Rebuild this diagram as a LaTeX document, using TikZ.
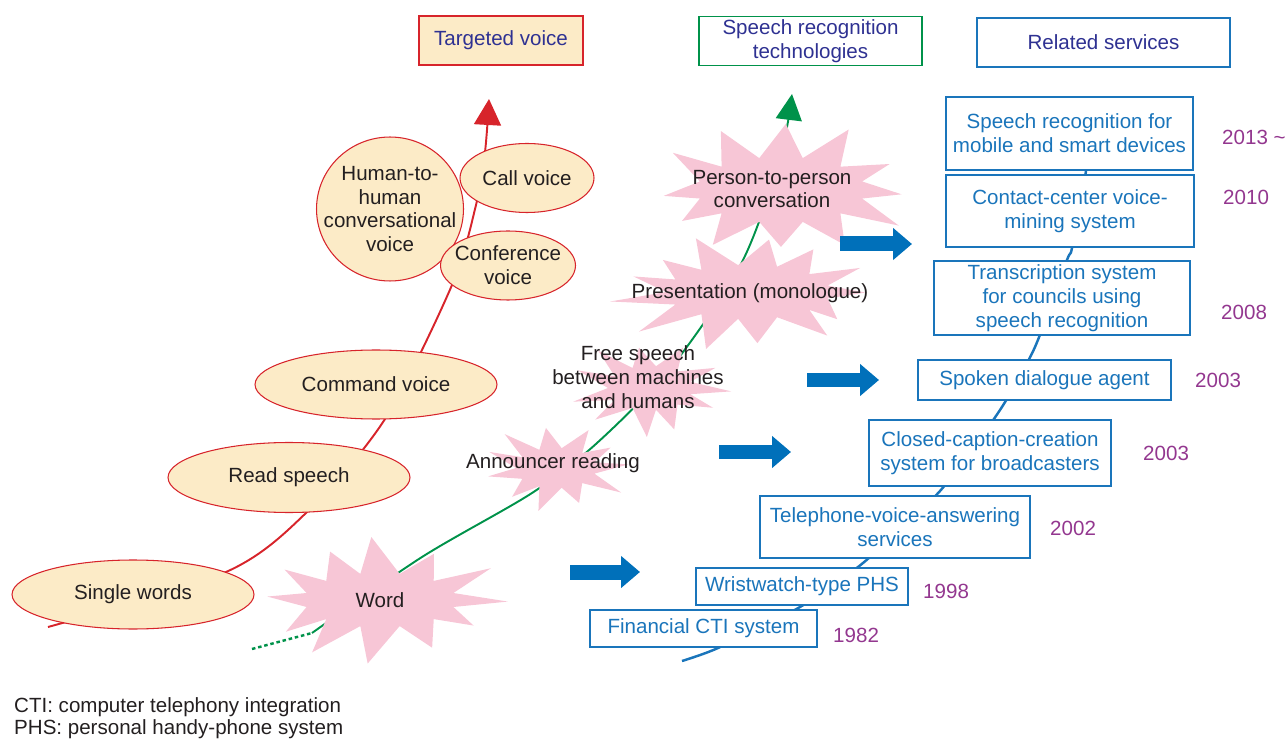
\documentclass[tikz,border=0pt]{standalone}
\usepackage{fontspec}
\setmainfont{Liberation Sans}
\usetikzlibrary{arrows.meta}
\usetikzlibrary{shapes.geometric}

\definecolor{voicered}{HTML}{D7242B}
\definecolor{voicefill}{HTML}{FCEBC7}
\definecolor{burstpink}{HTML}{F7C6D6}
\definecolor{techgreen}{HTML}{00924A}
\definecolor{servblue}{HTML}{1A75BB}
\definecolor{arrowblue}{HTML}{0070BA}
\definecolor{yearpurple}{HTML}{93378F}
\definecolor{headblue}{HTML}{2E3192}
\definecolor{inktext}{HTML}{231F20}

\tikzset{
  txt/.style={font=\fontsize{11.7}{13.6}\selectfont, align=center, text=inktext},
  voice/.style={ellipse, draw=voicered, fill=voicefill, line width=0.6pt, inner sep=-10pt, txt},
  service/.style={rectangle, draw=servblue, fill=white, line width=0.75pt, inner sep=0pt, txt, text=servblue},
  header/.style={rectangle, line width=0.75pt, inner sep=0pt, minimum height=0.98cm, txt, text=headblue},
  year/.style={txt, text=yearpurple, anchor=west},
  bigarrow/.style={arrowblue, line width=0.3cm, -{Triangle[length=0.38cm, width=0.62cm]}},
}

% pink star: centre x, centre y, outer rx, outer ry, inner rx, inner ry, points, seed
\newcommand{\spikes}[8]{%
  \pgfmathsetseed{#8}%
  \pgfmathsetmacro\halfstep{180/#7}%
  \pgfmathtruncatemacro\lastpt{#7-1}%
  \fill[burstpink] ({#1+#5*cos(\halfstep)}, {#2-#6*sin(\halfstep)})
    \foreach \k [evaluate=\k as \f using 0.76+0.24*rnd, evaluate=\k as \a using 2*\k*\halfstep+6*rand] in {0,...,\lastpt} {
      -- ({#1+\f*#3*cos(\a)}, {#2+\f*#4*sin(\a)})
      -- ({#1+#5*cos((2*\k+1)*\halfstep)}, {#2+#6*sin((2*\k+1)*\halfstep)})
    } -- cycle;
}

\begin{document}
\begin{tikzpicture}[x=0.02cm, y=-0.02cm]
  \useasboundingbox (0,0) rectangle (1287,739);

  % headers
  \node[header, draw=voicered, fill=voicefill, minimum width=3.28cm] (targeted) at (501,40.5) {Targeted voice};
  \node[header, draw=techgreen, fill=white, minimum width=4.46cm] (techs) at (810.5,41.3) {Speech recognition\\technologies};
  \node[header, draw=servblue, fill=white, minimum width=5.06cm] (related) at (1103.5,42.5) {Related services};

  % the three time lines
  \draw[voicered, line width=1.1pt, -{Triangle[length=0.52cm, width=0.54cm]}]
    plot[smooth, tension=0.5] coordinates {(48,627) (226,572) (307,512) (385,419) (452,285) (476,205) (485,152) (489,99)};
  \draw[techgreen, line width=1.4pt, dash pattern=on 2pt off 1.6pt] (252,649) -- (312,633);
  \draw[techgreen, line width=1.1pt, -{Triangle[length=0.52cm, width=0.52cm]}]
    plot[smooth, tension=0.5] coordinates {(312,633) (422,557) (532,493) (597,443) (673,365) (742,262) (780,158) (792,94)};
  \draw[servblue, line width=1.4pt]
    plot[smooth, tension=0.4] coordinates {(682,661) (718,648) (800,607) (863,563) (940,491) (1000,410) (1035,347) (1067,260) (1072,248) (1086,171)};

  % technologies
  \spikes{380}{600}{132}{70}{76}{27}{12}{7}
  \spikes{556}{468}{80}{48}{40}{20}{11}{21}
  \spikes{650}{388}{82}{50}{42}{22}{11}{33}
  \spikes{748}{292}{140}{64}{82}{27}{13}{45}
  \spikes{781}{190}{142}{72}{84}{33}{12}{58}

  \node[txt] (word) at (380,600) {Word};
  \node[txt] (announce) at (553,463) {Announcer reading};
  \node[txt] (free) at (638,377) {Free speech\\between machines\\and humans};
  \node[txt] (present) at (750,293) {Presentation (monologue)};
  \node[txt] (person) at (772,189) {Person-to-person\\conversation};

  % targeted voice
  \node[voice, minimum width=2.94cm, minimum height=2.88cm] (human) at (390,209) {Human-to-\\human\\conversational\\voice};
  \node[voice, minimum width=2.7cm, minimum height=1.38cm] (conference) at (508,265.5) {Conference\\voice};
  \node[voice, minimum width=2.68cm, minimum height=1.38cm] (call) at (527,178) {Call voice};
  \node[voice, minimum width=4.84cm, minimum height=1.38cm] (command) at (376,384.5) {Command voice};
  \node[voice, minimum width=4.84cm, minimum height=1.4cm] (read) at (289,477.5) {Read speech};
  \node[voice, minimum width=4.84cm, minimum height=1.38cm] (single) at (133,594.5) {Single words};

  % arrows to services
  \draw[bigarrow] (570,572) -- (640,572);
  \draw[bigarrow] (719,452) -- (791,452);
  \draw[bigarrow] (807,380) -- (879,380);
  \draw[bigarrow] (840,244) -- (912,244);

  % related services
  \node[service, minimum width=4.94cm, minimum height=1.46cm] (mobile) at (1069.5,133.5) {Speech recognition for\\mobile and smart devices};
  \node[service, minimum width=4.96cm, minimum height=1.44cm] (contact) at (1070,211) {Contact-center voice-\\mining system};
  \node[service, minimum width=5.12cm, minimum height=1.48cm] (council) at (1062,298) {Transcription system\\for councils using\\speech recognition};
  \node[service, minimum width=5.06cm, minimum height=0.8cm] (agent) at (1044.5,380) {Spoken dialogue agent};
  \node[service, minimum width=4.84cm, minimum height=1.32cm] (caption) at (990,453) {Closed-caption-creation\\system for broadcasters};
  \node[service, minimum width=5.4cm, minimum height=1.24cm] (phone) at (895,527) {Telephone-voice-answering\\services};
  \node[service, minimum width=4.24cm, minimum height=0.74cm] (watch) at (802,586.5) {Wristwatch-type PHS};
  \node[service, minimum width=4.54cm, minimum height=0.74cm] (cti) at (703.5,628.5) {Financial CTI system};

  \node[year] (y2013) at (1216,137) {2013 \textasciitilde};
  \node[year] (y2010) at (1217,197) {2010};
  \node[year] (y2008) at (1215,312) {2008};
  \node[year] (y2003a) at (1189,380) {2003};
  \node[year] (y2003b) at (1137,453) {2003};
  \node[year] (y2002) at (1044,528) {2002};
  \node[year] (y1998) at (917,591) {1998};
  \node[year] (y1982) at (827,635) {1982};

  % abbreviations
  \node[txt, anchor=west] (ctinote) at (8,707) {CTI: computer telephony integration};
  \node[txt, anchor=west] (phsnote) at (8,729) {PHS: personal handy-phone system};
\end{tikzpicture}
\end{document}
